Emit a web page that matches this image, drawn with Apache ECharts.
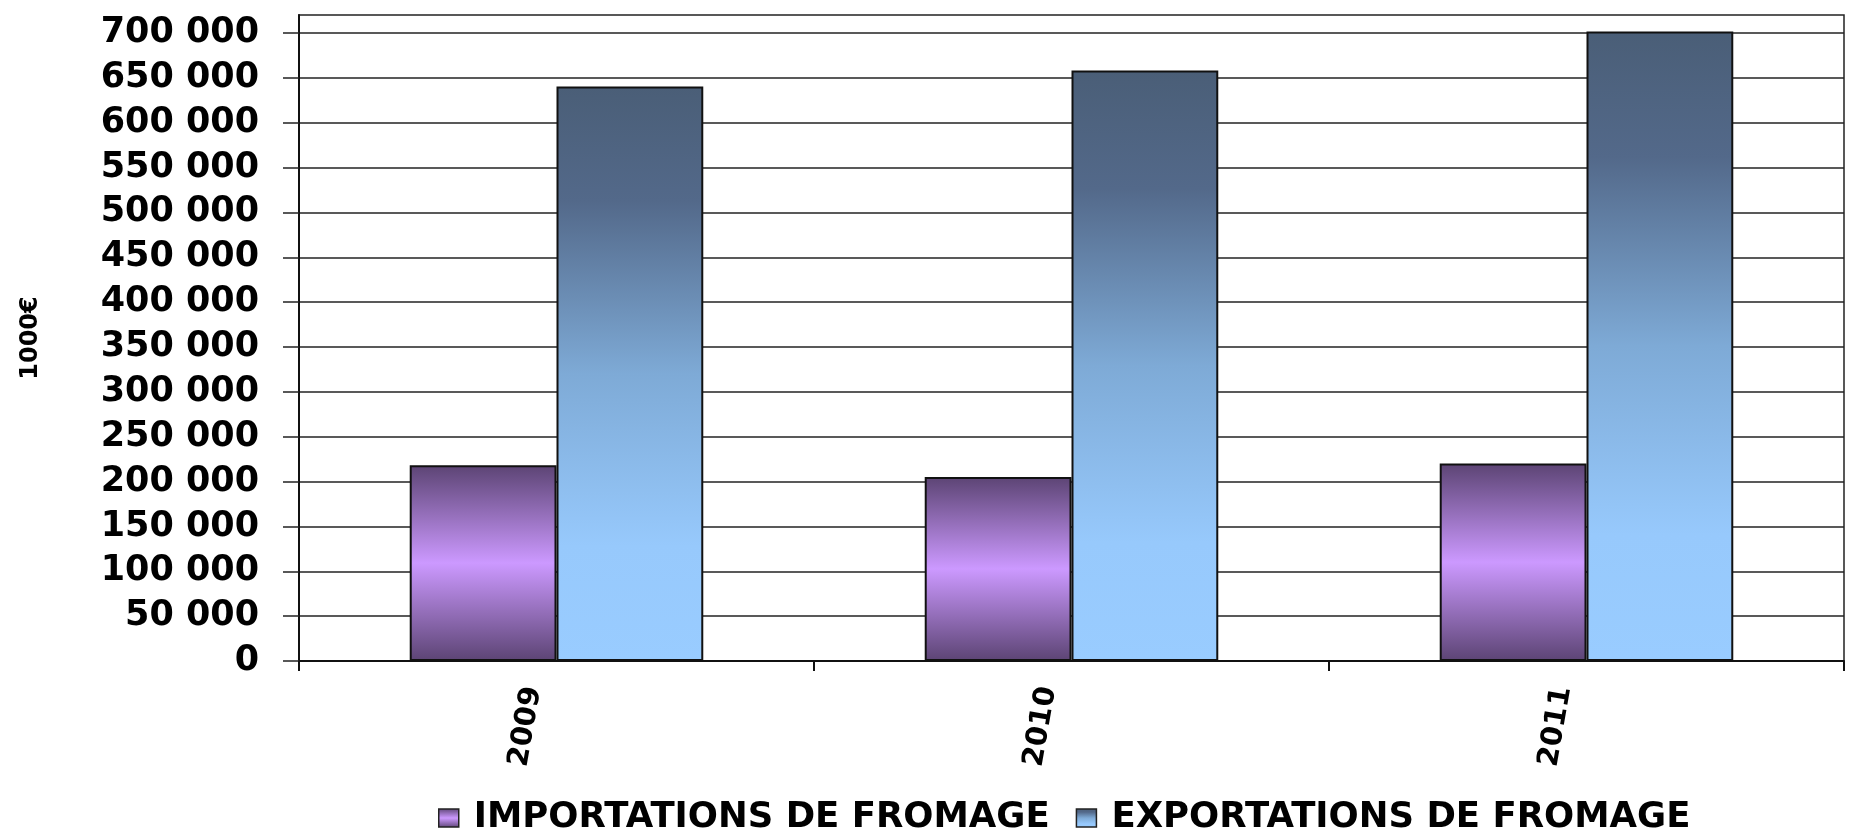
<!DOCTYPE html>
<html>
<head>
<meta charset="utf-8">
<script src="https://cdn.jsdelivr.net/npm/echarts@6.0.0/dist/echarts.min.js"></script>
<style>
  html, body { margin: 0; padding: 0; background: #fff; }
  #chart { width: 1854px; height: 834px; }
</style>
</head>
<body>
<div id="chart"></div>
<script>
// years on the x axis
const years = ['2009', '2010', '2011']
// values in 1000€
const importations = [218300, 205200, 220100]
const exportations = [640300, 658100, 701600]
// y ticks shown
const yTicks = [0, 50000, 100000, 150000, 200000, 250000, 300000, 350000,
  400000, 450000, 500000, 550000, 600000, 650000, 700000]

const seriesNames = ['IMPORTATIONS DE FROMAGE', 'EXPORTATIONS DE FROMAGE']

function fmt(v) {
  // 650000 -> "650 000"
  return String(v).replace(/\B(?=(\d{3})+(?!\d))/g, ' ')
}

const importGradient = new echarts.graphic.LinearGradient(0, 0, 0, 1, [
  { offset: 0, color: '#5c4474' },
  { offset: 0.5, color: '#cc99ff' },
  { offset: 1, color: '#5c4474' }
])
const exportGradient = new echarts.graphic.LinearGradient(0, 0, 0, 1, [
  { offset: 0, color: '#4a5e77' },
  { offset: 0.2, color: '#53698a' },
  { offset: 0.5, color: '#7eaad6' },
  { offset: 0.8, color: '#97c9fc' },
  { offset: 1, color: '#99ccff' }
])

const options = {
  animation: false,
  backgroundColor: '#fff',
  grid: {
    left: 299, right: 10, top: 15, bottom: 173,
    show: true, borderColor: '#222', borderWidth: 1.5
  },
  legend: {
    data: seriesNames,
    left: 433,
    top: 795,
    itemWidth: 20,
    itemHeight: 18,
    itemGap: 26,
    icon: 'rect',
    textStyle: {
      fontFamily: 'DejaVu Sans', fontWeight: 'bold', fontSize: 35.5, color: '#000',
      padding: [0, 0, 0, 10]
    },
    itemStyle: { borderColor: '#222', borderWidth: 1.5 }
  },
  xAxis: {
    type: 'category',
    data: years,
    axisLine: { lineStyle: { color: '#111', width: 2 } },
    axisTick: { show: true, length: 10, lineStyle: { color: '#111', width: 2 } },
    axisLabel: {
      rotate: 80,
      margin: 30,
      // blank second line pushes the year a bit to the left, like the original
      formatter: (v) => v + '\n ',
      lineHeight: 48,
      fontFamily: 'DejaVu Sans', fontWeight: 'bold', fontSize: 29, color: '#000'
    }
  },
  yAxis: {
    type: 'value',
    min: 0,
    max: 720000,
    interval: 50000,
    name: '1000€',
    nameLocation: 'middle',
    nameRotate: 90,
    nameGap: 256,
    nameTextStyle: {
      fontFamily: 'DejaVu Sans', fontWeight: 'bold', fontSize: 24, color: '#000'
    },
    axisLine: { show: true, lineStyle: { color: '#111', width: 2 } },
    axisTick: {
      show: true, length: 16, customValues: yTicks,
      lineStyle: { color: '#222', width: 1.5 }
    },
    axisLabel: {
      margin: 40,
      customValues: yTicks,
      formatter: (v) => fmt(v),
      fontFamily: 'DejaVu Sans', fontWeight: 'bold', fontSize: 35, color: '#000'
    },
    splitLine: { show: true, lineStyle: { color: '#222', width: 1.5 } }
  },
  series: [
    {
      name: seriesNames[0],
      type: 'bar',
      data: importations,
      barGap: '0%',
      barCategoryGap: '43%',
      itemStyle: { color: importGradient, borderColor: '#111', borderWidth: 2 }
    },
    {
      name: seriesNames[1],
      type: 'bar',
      data: exportations,
      barGap: '0%',
      barCategoryGap: '43%',
      itemStyle: { color: exportGradient, borderColor: '#111', borderWidth: 2 }
    }
  ]
}

let myChart = echarts.init(document.getElementById('chart'))
myChart.setOption(options)
</script>
</body>
</html>
